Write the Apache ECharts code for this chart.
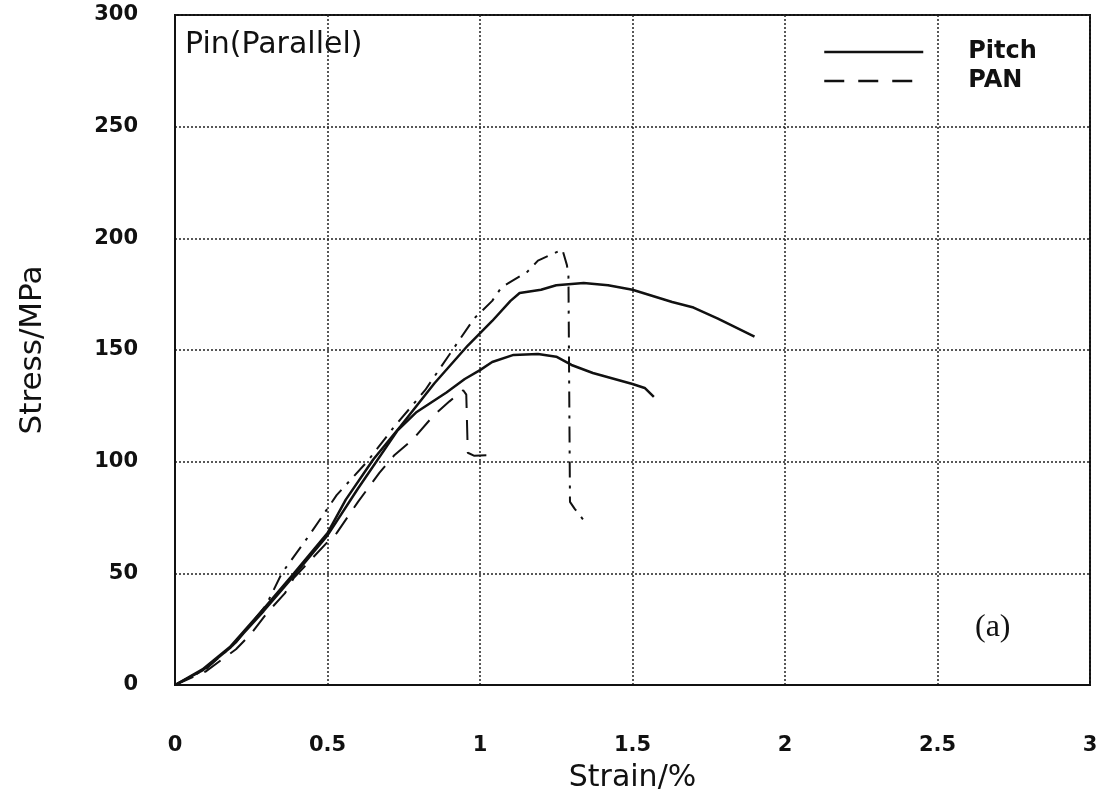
<!DOCTYPE html>
<html>
<head>
<meta charset="utf-8">
<script src="https://cdn.jsdelivr.net/npm/echarts@6/dist/echarts.min.js"></script>
<style>html,body{margin:0;padding:0;background:#fff;}#c{width:1107px;height:802px;}</style>
</head>
<body>
<div id="c"></div>
<script>
var xTicks = ['0', '0.5', '1', '1.5', '2', '2.5', '3'];
var yTicks = ['0', '50', '100', '150', '200', '250', '300'];

var pitchAStrain = [0, 0.09, 0.18, 0.29, 0.39, 0.5, 0.56, 0.65, 0.74, 0.85, 0.96, 1.04, 1.1, 1.13, 1.2, 1.25, 1.34, 1.42, 1.5, 1.63, 1.7, 1.78, 1.9];
var pitchAStress = [0, 7, 17, 34, 50, 68, 83, 101, 116, 135, 152, 163, 172, 175.5, 177, 179, 180, 179, 177, 171.5, 169, 164, 156];

var pitchBStrain = [0, 0.09, 0.18, 0.29, 0.39, 0.5, 0.6, 0.73, 0.79, 0.89, 0.95, 1.0, 1.04, 1.11, 1.19, 1.25, 1.3, 1.37, 1.5, 1.54, 1.57];
var pitchBStress = [0, 6.5, 16.5, 33, 49, 67, 88, 114, 122, 131, 137, 141, 144.6, 147.8, 148.2, 147, 143.3, 139.7, 134.8, 133, 129];

var panBStrain = [0, 0.1, 0.2, 0.25, 0.3, 0.36, 0.39, 0.5, 0.53, 0.6, 0.67, 0.72, 0.78, 0.85, 0.9, 0.945, 0.955, 0.96, 0.98, 1.06];
var panBStress = [0, 6, 16, 23, 32, 41, 48, 64, 68, 82, 95, 103, 110, 121, 127, 132, 130, 104, 102.7, 103];

var panAStrain = [0, 0.1, 0.2, 0.3, 0.35, 0.44, 0.53, 0.63, 0.715, 0.82, 0.9, 0.98, 1.04, 1.07, 1.1, 1.155, 1.19, 1.27, 1.285, 1.29, 1.295, 1.31, 1.35];
var panAStress = [0, 7, 19, 36, 50, 67, 85, 100, 115, 132, 148, 164, 172, 178, 180.5, 185, 190, 195, 188, 183, 82, 79, 72];

function zip(a, b) { return a.map(function (v, i) { return [v, b[i]]; }); }

var FONT = 'DejaVu Sans';
var chart = echarts.init(document.getElementById('c'));
chart.setOption({
  animation: false,
  backgroundColor: '#fff',
  color: ['#111', '#111', '#111', '#111'],
  grid: { left: 175, right: 17, top: 15, bottom: 117, show: true, borderColor: '#111', borderWidth: 2,
    containLabel: false, outerBoundsMode: 'none' },
  xAxis: {
    type: 'value', min: 0, max: 3, interval: 0.5,
    name: 'Strain/%', nameLocation: 'middle', nameGap: 78,
    nameTextStyle: { fontFamily: FONT, fontSize: 30, color: '#111' },
    axisLine: { lineStyle: { color: '#111', width: 2 } },
    axisTick: { show: false },
    axisLabel: { margin: 50, fontFamily: FONT, fontWeight: 'bold', fontSize: 21, color: '#111',
      formatter: function (v) { return xTicks[Math.round(v / 0.5)]; } },
    splitLine: { lineStyle: { color: '#222', type: [2, 2], width: 1.5 } }
  },
  yAxis: {
    type: 'value', min: 0, max: 300, interval: 50,
    name: 'Stress/MPa', nameLocation: 'middle', nameGap: 127, nameRotate: 90,
    nameTextStyle: { fontFamily: FONT, fontSize: 31, color: '#111' },
    axisLine: { show: true, lineStyle: { color: '#111', width: 2 } },
    axisTick: { show: false },
    axisLabel: { margin: 37, fontFamily: FONT, fontWeight: 'bold', fontSize: 21, color: '#111',
      formatter: function (v) { return yTicks[Math.round(v / 50)]; } },
    splitLine: { lineStyle: { color: '#222', type: [2, 2], width: 1.5 } }
  },
  legend: {
    left: 818, top: 35, orient: 'vertical', itemGap: 5, itemWidth: 99, itemHeight: 14,
    itemStyle: { opacity: 0 },
    textStyle: { fontFamily: FONT, fontWeight: 'bold', fontSize: 24, color: '#111', padding: [0, 0, 0, 40] },
    data: [
      { name: 'Pitch', lineStyle: { color: '#111', width: 2.5, type: 'solid' } },
      { name: 'PAN', lineStyle: { color: '#111', width: 2.5, type: [20, 14] } }
    ]
  },
  graphic: [
    { type: 'text', left: 185, top: 30, style: { text: 'Pin(Parallel)', fontFamily: FONT, fontSize: 30, fill: '#111' } },
    { type: 'text', left: 975, top: 612, style: { text: '(a)', fontFamily: 'Liberation Serif', fontSize: 32, fill: '#111' } }
  ],
  series: [
    { name: 'Pitch', type: 'line', data: zip(pitchAStrain, pitchAStress), showSymbol: false, symbol: 'none',
      itemStyle: { color: '#111' }, lineStyle: { color: '#111', width: 2.5, type: 'solid' } },
    { name: 'Pitch', type: 'line', data: zip(pitchBStrain, pitchBStress), showSymbol: false, symbol: 'none',
      itemStyle: { color: '#111' }, lineStyle: { color: '#111', width: 2.5, type: 'solid' } },
    { name: 'PAN', type: 'line', data: zip(panBStrain, panBStress), showSymbol: false, symbol: 'none',
      itemStyle: { color: '#111' }, lineStyle: { color: '#111', width: 2, type: [20, 12] } },
    { name: 'PAN', type: 'line', data: zip(panAStrain, panAStress), showSymbol: false, symbol: 'none',
      itemStyle: { color: '#111' }, lineStyle: { color: '#111', width: 2, type: [16, 8, 3, 8] } }
  ]
});
</script>
</body>
</html>
